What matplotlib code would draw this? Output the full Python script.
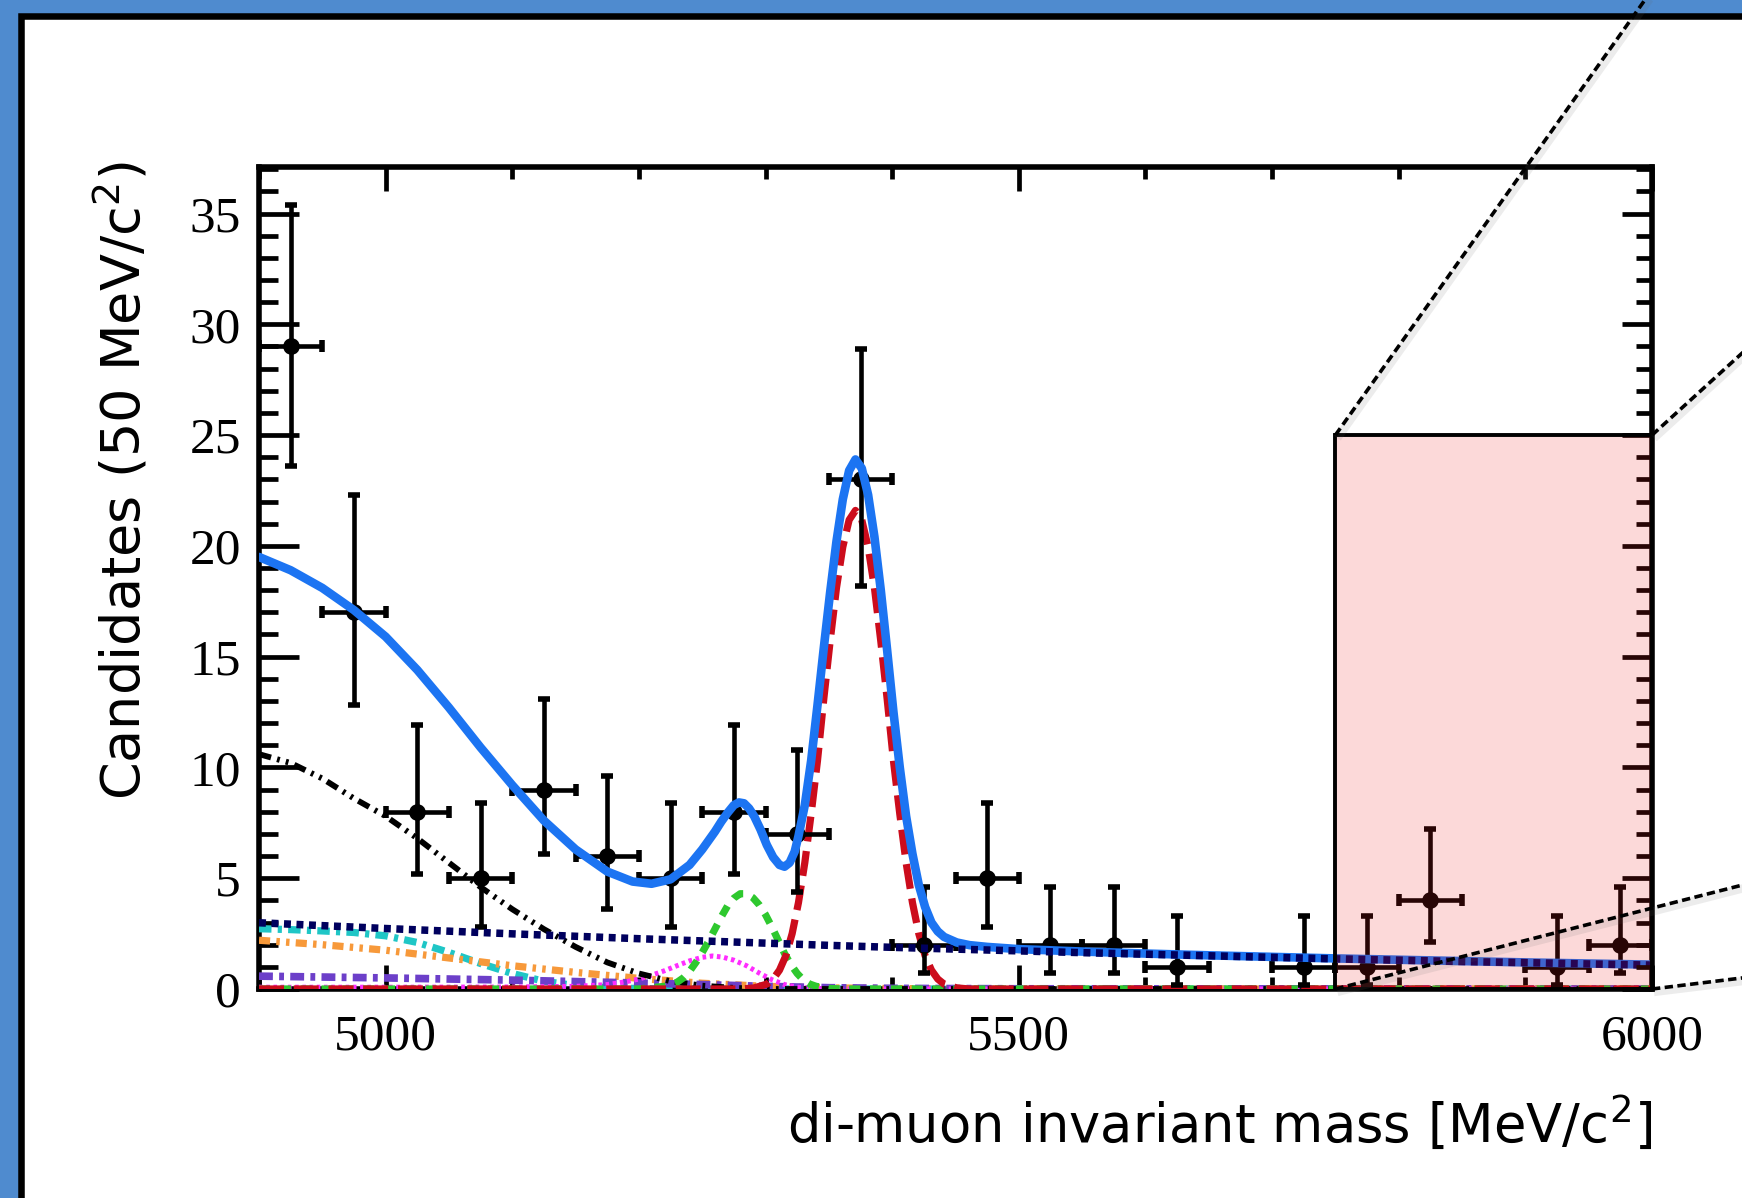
import numpy as np
import matplotlib.pyplot as plt
import matplotlib.transforms as mtransforms
from matplotlib.patches import Rectangle
from matplotlib.ticker import MultipleLocator, FixedLocator

plt.rcParams['lines.scale_dashes'] = False

# ---------------------------------------------------------------
# binned data, 50 MeV bins (empty bins are not drawn)
mass = np.array([4925, 4975, 5025, 5075, 5125, 5175, 5225, 5275, 5325, 5375,
                 5425, 5475, 5525, 5575, 5625, 5725, 5775, 5825, 5925, 5975])
counts = np.array([29, 17, 8, 5, 9, 6, 5, 8, 7, 23, 2, 5, 2, 2, 1, 1, 1, 4, 1, 2])
# 68% Poisson interval edges for each bin
err_lo = np.array([23.6, 12.8, 5.2, 2.8, 6.1, 3.6, 2.8, 5.2, 4.4, 18.2,
                   0.7, 2.8, 0.7, 0.7, 0.2, 0.2, 0.2, 2.1, 0.2, 0.7])
err_hi = np.array([35.4, 22.3, 11.9, 8.4, 13.1, 9.6, 8.4, 11.9, 10.8, 28.9,
                   4.6, 8.4, 4.6, 4.6, 3.3, 3.3, 3.3, 7.2, 3.3, 4.6])
bin_half = 25

# fit components (sampled)
total_x = [4900, 4925, 4950, 4975, 5000, 5025, 5050, 5075, 5100, 5125, 5150, 5175,
           5195, 5210, 5225, 5240, 5250, 5260, 5265, 5270, 5275, 5279, 5283, 5287,
           5291, 5296, 5301, 5306, 5311, 5315, 5319, 5323, 5326, 5331, 5336, 5341,
           5346, 5351, 5356, 5361, 5366, 5371, 5376, 5381, 5386, 5391, 5396, 5401,
           5406, 5411, 5416, 5421, 5426, 5431, 5436, 5441, 5451, 5461, 5475, 5500,
           5550, 5600, 5650, 5700, 5750, 5800, 5850, 5900, 5950, 6000]
total_y = [19.5, 18.9, 18.1, 17.1, 15.9, 14.4, 12.7, 10.9, 9.2, 7.6, 6.3, 5.3,
           4.85, 4.75, 4.95, 5.6, 6.3, 7.1, 7.55, 7.95, 8.3, 8.42, 8.38, 8.15,
           7.8, 7.2, 6.5, 5.95, 5.6, 5.52, 5.7, 6.2, 6.9, 8.3, 10.3, 12.8,
           15.4, 17.9, 20.2, 22.1, 23.4, 23.9, 23.5, 22.3, 20.4, 18.0, 15.3, 12.5,
           10.0, 7.8, 6.1, 4.7, 3.7, 3.0, 2.6, 2.35, 2.1, 1.98, 1.9, 1.8,
           1.69, 1.6, 1.52, 1.45, 1.38, 1.32, 1.26, 1.2, 1.15, 1.1]

bs_x = [4900, 5281, 5291, 5301, 5306, 5311, 5316, 5321, 5326, 5331, 5336, 5341,
        5346, 5351, 5356, 5361, 5366, 5371, 5376, 5381, 5386, 5391, 5396, 5401,
        5406, 5411, 5416, 5421, 5426, 5431, 5436, 5441, 5451, 5461, 6000]
bs_y = [0, 0, 0.05, 0.22, 0.45, 0.85, 1.5, 2.5, 3.9, 5.7, 7.9, 10.3,
        13.1, 15.7, 18.1, 19.95, 21.17, 21.6, 21.17, 19.95, 18.1, 15.7, 13.1, 10.3,
        7.9, 5.7, 3.9, 2.5, 1.5, 0.85, 0.45, 0.22, 0.05, 0, 0]

bd_x = [4900, 5200, 5220, 5230, 5235, 5240, 5245, 5250, 5255, 5260, 5265, 5270,
        5275, 5280, 5285, 5290, 5295, 5300, 5305, 5310, 5315, 5320, 5325, 5330,
        5335, 5340, 5350, 5360, 6000]
bd_y = [0, 0, 0.12, 0.3, 0.5, 0.8, 1.2, 1.65, 2.15, 2.7, 3.25, 3.75,
        4.1, 4.3, 4.3, 4.12, 3.8, 3.35, 2.8, 2.2, 1.6, 1.1, 0.7, 0.4,
        0.22, 0.12, 0.03, 0, 0]

comb_x = [4900, 4950, 5000, 5050, 5100, 5150, 5200, 5250, 5300, 5350, 5400, 5450,
          5500, 5550, 5600, 5650, 5700, 5750, 5800, 5850, 5900, 5950, 6000]
comb_y = [2.99, 2.86, 2.73, 2.61, 2.49, 2.38, 2.27, 2.17, 2.07, 1.97, 1.88, 1.80,
          1.72, 1.64, 1.57, 1.50, 1.43, 1.36, 1.30, 1.24, 1.19, 1.13, 1.08]

partreco_x = [4900, 4925, 4950, 4975, 5000, 5025, 5050, 5075, 5100, 5125, 5150,
              5175, 5200, 5225, 5250, 5275, 5300, 6000]
partreco_y = [10.6, 10.2, 9.5, 8.6, 7.8, 6.8, 5.7, 4.6, 3.6, 2.7, 1.9,
              1.2, 0.7, 0.35, 0.15, 0.05, 0, 0]

cyan_x = [4900, 4925, 4950, 4975, 5000, 5025, 5050, 5075, 5100, 5125, 5150,
          5175, 5200, 5250, 6000]
cyan_y = [2.72, 2.68, 2.62, 2.55, 2.4, 2.1, 1.65, 1.15, 0.7, 0.35, 0.15,
          0.06, 0.02, 0, 0]

orange_x = [4900, 4950, 5000, 5050, 5100, 5150, 5200, 5250, 5300, 5350, 5400, 5500, 6000]
orange_y = [2.2, 2.0, 1.75, 1.4, 1.05, 0.75, 0.48, 0.26, 0.12, 0.05, 0.02, 0, 0]

purple_x = [4900, 5000, 5100, 5200, 5250, 5300, 5350, 5400, 5500, 6000]
purple_y = [0.58, 0.5, 0.4, 0.27, 0.2, 0.12, 0.06, 0.03, 0.01, 0]

magenta_x = [4900, 5000, 5100, 5150, 5175, 5190, 5200, 5210, 5220, 5230, 5240,
             5250, 5258, 5266, 5275, 5285, 5295, 5305, 5315, 5325, 5340, 5360, 6000]
magenta_y = [0.08, 0.08, 0.09, 0.12, 0.2, 0.33, 0.45, 0.62, 0.82, 1.05, 1.27,
             1.43, 1.49, 1.44, 1.3, 1.05, 0.72, 0.42, 0.2, 0.08, 0.02, 0, 0]

# search window and where its zoom lines go
window = (5750, 6000, 25)
zoom_ends = [(5750, 25, 6020, 46.7), (6000, 25, 6100, 30.2),
             (5750, 0, 6100, 5.11), (6000, 0, 6100, 0.70)]

# ---------------------------------------------------------------
fig = plt.figure(figsize=(17.42, 11.98), dpi=100, facecolor='#4f8bcf')
panel = Rectangle((0.0118, -0.1), 1.2, 1.0866, transform=fig.transFigure,
                  facecolor='white', edgecolor='black', linewidth=4.7, zorder=-1)
fig.patches.append(panel)

ax = fig.add_axes([0.14868, 0.17446, 0.79966, 0.68614])
ax.patch.set_alpha(0)
ax.set_xlim(4900, 6000)
ax.set_ylim(0, 37.1)

ax.plot(cyan_x, cyan_y, color='#1fc6c6', lw=5.2, ls=(0, (9, 4.5, 3, 4.5)), zorder=3)
ax.plot(orange_x, orange_y, color='#f7993a', lw=5.2, ls=(0, (8, 4.5, 2.5, 4.5, 2.5, 4.5)), zorder=3)
ax.plot(purple_x, purple_y, color='#6c3fc9', lw=5.5, ls=(0, (10, 4.5, 3.5, 4.5)), zorder=3)
ax.plot(magenta_x, magenta_y, color='#ff2cff', lw=3.6, ls=(0, (2.6, 2.6)), zorder=3)
ax.plot(partreco_x, partreco_y, color='black', lw=4.2,
        ls=(0, (9, 4.5, 2, 4.5, 2, 4.5)), zorder=3)
ax.plot(bd_x, bd_y, color='#2ec82e', lw=5.2, ls=(0, (8, 7)), zorder=3)
ax.plot(bs_x, bs_y, color='#cc0c1c', lw=5.2, ls=(0, (18, 7)), zorder=3.2)

ax.errorbar(mass, counts, yerr=[counts - err_lo, err_hi - counts], xerr=bin_half,
            fmt='o', color='black', ms=11, elinewidth=3.3, capsize=4.2,
            capthick=4, zorder=3.5)

ax.plot(total_x, total_y, color='#1c74f2', lw=6.2, solid_capstyle='round', zorder=4)
ax.plot(comb_x, comb_y, color='#00005e', lw=5.4, ls=(0, (5, 4)), zorder=4.5)

for s in ax.spines.values():
    s.set_linewidth(4)

ax.xaxis.set_major_locator(FixedLocator([5000, 5500, 6000]))
ax.xaxis.set_minor_locator(MultipleLocator(100))
ax.yaxis.set_major_locator(MultipleLocator(5))
ax.yaxis.set_minor_locator(MultipleLocator(1))
ax.tick_params(which='both', direction='in', top=True, width=3.4)
ax.tick_params(axis='x', which='major', length=17, pad=18)
ax.tick_params(axis='x', which='minor', length=8.5)
ax.tick_params(axis='y', which='major', length=29, pad=13)
ax.tick_params(axis='y', which='minor', length=13.5)
for lab in ax.get_xticklabels() + ax.get_yticklabels():
    lab.set_fontfamily('Liberation Serif')
    lab.set_fontsize(37)

ax.set_xlabel('di-muon invariant mass [MeV/c$^2$]', fontsize=38, loc='right')
ax.xaxis.set_label_coords(1.0, -0.128)
ax.xaxis.label.set_va('top')
fig.text(0.0700, 0.8656, 'Candidates (50 MeV/c$^2$)', fontsize=39,
         rotation=90, ha='center', va='top')

# right-hand ticks, window box and zoom lines sit on a twin axes
ax2 = ax.twinx()
ax2.set_ylim(0, 37.1)
ax2.yaxis.set_major_locator(MultipleLocator(5))
ax2.yaxis.set_minor_locator(MultipleLocator(1))
ax2.tick_params(axis='y', which='both', direction='in', labelright=False, width=3.4)
ax2.tick_params(axis='y', which='major', length=21.5)
ax2.tick_params(axis='y', which='minor', length=11.5)
for s in ax2.spines.values():
    s.set_visible(False)

x0, x1, top = window
ax2.add_patch(Rectangle((x0, 0), x1 - x0, top, facecolor=(0.94, 0.12, 0.12, 0.17),
                        edgecolor='black', linewidth=2.8, zorder=10, clip_on=False))

shadow = mtransforms.offset_copy(ax2.transData, fig=fig, x=2, y=-3, units='dots')
for xa, ya, xb, yb in zoom_ends:
    ax2.plot([xa, xb], [ya, yb], color='0.4', lw=6, alpha=0.12, transform=shadow,
             clip_on=False, zorder=10.5, solid_capstyle='butt')
    ax2.plot([xa, xb], [ya, yb], color='black', lw=2.6, ls=(0, (6, 3.2)),
             clip_on=False, zorder=11)

fig.savefig('out.png', dpi=100)
